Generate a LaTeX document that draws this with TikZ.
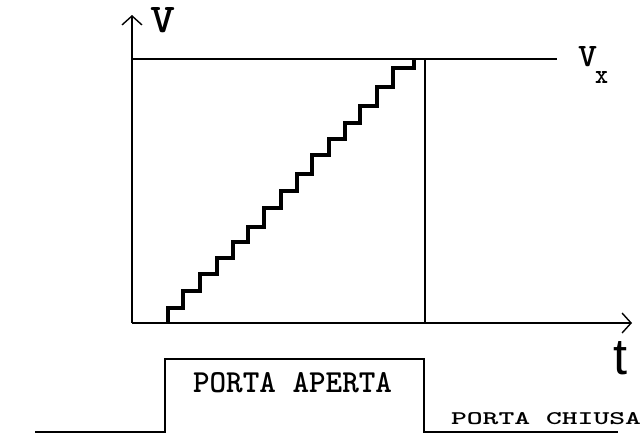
\documentclass[tikz,border=0pt]{standalone}
\usepackage{fontspec}
\setmainfont{Liberation Sans}
\usetikzlibrary{arrows.meta}
\tikzset{
  axis/.style={line width=2pt, -{Straight Barb[length=9pt,width=20pt,line width=1.4pt]}},
  guide/.style={line width=2pt},
  stair/.style={line width=3.8pt, line join=miter, line cap=butt},
  pulse/.style={line width=1.8pt, line join=miter},
  lbl/.style={inner sep=0pt, outer sep=0pt}
}
\begin{document}
\begin{tikzpicture}[x=1pt,y=1pt]
\useasboundingbox (0,0) rectangle (643,-434);
% axes
\coordinate (O) at (132,-323);
\coordinate (ytop) at (132,-15);
\coordinate (xend) at (632,-323);
\draw[axis] (O) -- (ytop);
\draw[axis] (O) -- (xend);
% level line and vertical line
\coordinate (topL) at (132,-59);
\coordinate (topR) at (557,-59);
\coordinate (vT) at (425,-59);
\coordinate (vB) at (425,-323);
\draw[guide] (topL) -- (topR);
\draw[guide] (vT) -- (vB);
% staircase
\draw[stair] (168,-323) |- (183,-308) |- (200,-291) |- (217,-274) |- (233,-258)
  |- (248,-242) |- (264,-227) |- (281,-208) |- (297,-191) |- (312,-174)
  |- (329,-155) |- (345,-139) |- (360,-123) |- (377,-106) |- (393,-87)
  |- (414,-68) -- (414,-60);
% labels
\node[lbl] (V) at (162.5,-20.5) {\resizebox{25pt}{25pt}{\ttfamily\bfseries V}};
\node[lbl] (Vx) at (587.5,-57) {\resizebox{19pt}{20pt}{\ttfamily\bfseries V}};
\node[lbl] (Vxs) at (601.5,-77) {\resizebox{13pt}{12pt}{\ttfamily\bfseries x}};
\node[lbl] (t) at (620,-358.5) {\resizebox{14pt}{33pt}{t}};
% door pulse
\coordinate (b0) at (35,-432);
\coordinate (b1) at (165,-432);
\coordinate (b2) at (165,-359);
\coordinate (b3) at (424,-359);
\coordinate (b4) at (424,-432);
\coordinate (b5) at (618,-432);
\draw[pulse] (b0) -- (b1) -- (b2) -- (b3) -- (b4) -- (b5);
\draw[line width=2.8pt] (b1) -- ++(0,12);
\draw[line width=2.8pt] (b4) -- ++(0,12);
\node[lbl] (ap) at (292.5,-383) {\resizebox{199pt}{20pt}{\ttfamily\bfseries PORTA APERTA}};
\node[lbl] (ch) at (546,-419) {\resizebox{190pt}{12pt}{\ttfamily\bfseries PORTA CHIUSA}};
\end{tikzpicture}
\end{document}
